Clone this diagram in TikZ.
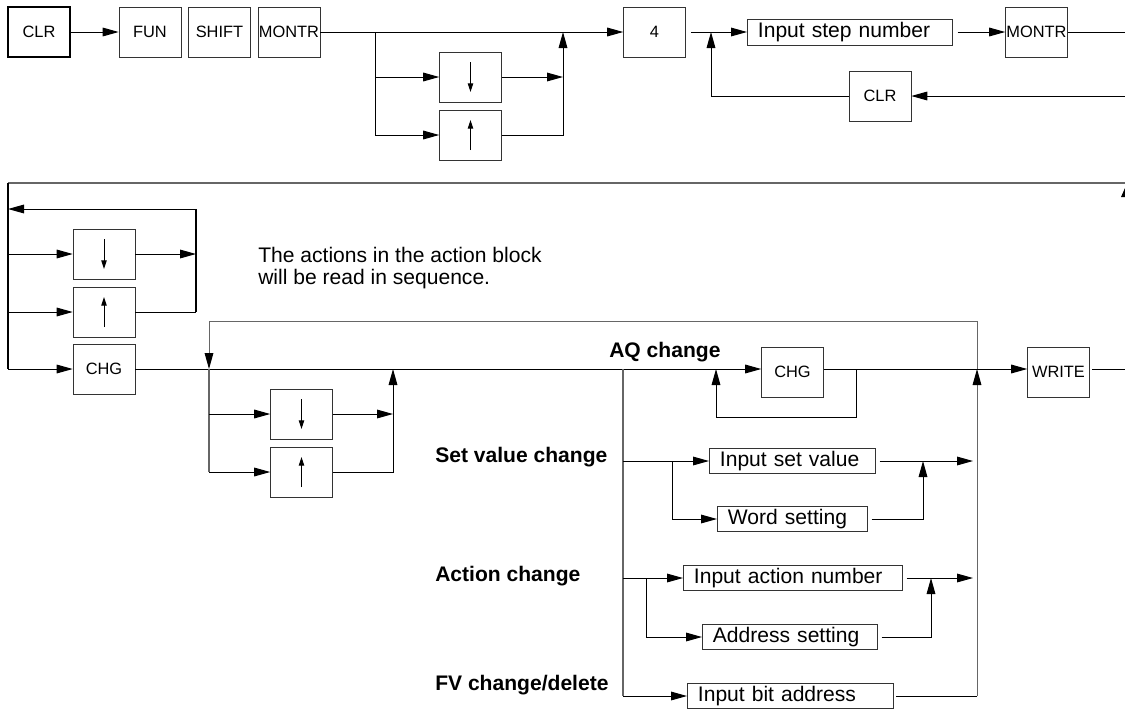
\documentclass[tikz,border=0pt]{standalone}
\usepackage{fontspec}
\setmainfont{Liberation Sans}
\usepackage{tikz}
\usetikzlibrary{arrows.meta, positioning, calc}

\begin{document}
\begin{tikzpicture}[
    x=0.75pt, y=-0.75pt,
    key/.style={rectangle, draw=black!80, minimum width=46.5pt, minimum height=37.5pt, inner sep=0pt, font=\fontsize{12.3}{14}\selectfont},
    entry/.style={rectangle, draw=black!80, anchor=west, text width=#1, align=left, inner xsep=8pt, inner ysep=0pt, minimum height=18.75pt, font=\fontsize{15.8}{18}\selectfont},
    modetext/.style={anchor=base west, inner sep=0pt, font=\fontsize{15.8}{18}\selectfont\bfseries},
    arrow/.style={-{Triangle[length=12pt, width=6.5pt, black]}, line width=0.75pt},
    wire/.style={line width=0.75pt},
    busline/.style={draw=black!60, line width=1.1pt},
    updown/.style={-{Triangle[length=6.5pt, width=4pt]}, line width=0.75pt},
]
    \useasboundingbox (0,0) rectangle (1125,708);

    % Top row: keys
    \node[key, draw=black, line width=1pt] (clr1) at (39,32) {CLR};
    \node[key, right=36pt of clr1] (fun) {FUN};
    \node[key, right=5.25pt of fun] (shift) {SHIFT};
    \node[key, right=5.25pt of shift] (montr1) {MONTR};
    \node[key] (dn1) at (470.5,77) {};
    \node[key] (up1) at (470.5,135) {};
    \node[key] (four) at (654.5,32) {4};
    \node[entry=137.75pt, minimum height=19.5pt] (isn) at (747,32) {Input step number};
    \node[key] (montr2) at (1036.5,32) {MONTR};
    \node[key] (clr2) at (880,96) {CLR};

    \coordinate (j1) at (375,32);
    \coordinate (m1) at (563,32);
    \coordinate (m2) at (711,32);
    \coordinate (e1) at (1125,96);
    \coordinate (e2) at (1125,32);

    % Top row: connectors
    \draw[arrow] (clr1) -- (fun);
    \draw[arrow] (montr1) -- (four);
    \draw[wire] (j1) -- (j1 |- up1);
    \draw[arrow] (j1 |- dn1) -- (dn1);
    \draw[arrow] (j1 |- up1) -- (up1);
    \draw[arrow] (dn1) -- (m1 |- dn1);
    \draw[arrow] (up1) -| (m1);
    \draw[arrow, shorten <=3.75pt] (four) -- (isn);
    \draw[arrow] (e1) -- (clr2);
    \draw[arrow] (clr2) -| (m2);
    \draw[arrow, shorten <=3.75pt] (isn) -- (montr2);
    \draw[wire] (montr2) -- (e2);

    % Second row: scroll loop
    \node[key] (dn2) at (104,254) {};
    \node[key] (up2) at (104,312) {};
    \node[key] (chg1) at (104,369) {CHG};

    \coordinate (l0) at (8,183);
    \coordinate (r0) at (1125,183);
    \coordinate (k1) at (196,209);

    \draw[busline] (r0) -- (l0);
    \draw[line width=1.4pt] (l0) -- (l0 |- chg1);
    \draw[arrow] (l0 |- chg1) -- (chg1);
    \draw[arrow] (l0 |- dn2) -- (dn2);
    \draw[arrow] (l0 |- up2) -- (up2);
    \draw[arrow] (dn2) -- (k1 |- dn2);
    \draw[wire] (up2) -- (k1 |- up2);
    \draw[line width=1.4pt] (k1 |- up2) -- (k1);
    \draw[arrow] (k1) -- (l0 |- k1);
    \fill (1121,197) -- (1125,188) -- (1125,197) -- cycle;

    \node[anchor=north west, align=left, inner sep=0pt, font=\fontsize{15.8}{16.5}\selectfont] (hint) at (258,247) {The actions in the action block\\will be read in sequence.};

    % Change block
    \node[key] (chg3) at (792.5,372) {CHG};
    \node[key] (write) at (1058.5,372) {WRITE};
    \node[key] (dn3) at (301.5,414) {};
    \node[key] (up3) at (301.5,472) {};

    \coordinate (t1) at (209,369);
    \coordinate (t2) at (977,369);
    \coordinate (t3) at (623,369);
    \coordinate (f1) at (209,321);
    \coordinate (f2) at (977,321);
    \coordinate (k2) at (393,369);
    \coordinate (q1) at (716,417);
    \coordinate (q2) at (856,417);
    \coordinate (e3) at (1125,369);

    \draw[arrow] (chg1) -- (chg1 -| chg3.west);
    \draw[arrow] (chg3.east |- chg1) -- (chg1 -| write.west);
    \draw[wire, shorten <=2pt] (e3 -| write.east) -- (e3);
    \draw[busline, arrow] (t2) -- (f2) -- (f1) -- (t1);
    \draw[busline] (t1) -- (t1 |- up3);
    \draw[arrow] (t1 |- dn3) -- (dn3);
    \draw[arrow] (t1 |- up3) -- (up3);
    \draw[arrow] (dn3) -- (k2 |- dn3);
    \draw[arrow] (up3) -| (k2);
    \draw[arrow] (q2 |- chg1) -- (q2) -- (q1) -- (q1 |- chg1);

    \node[modetext] (aq) at (609,357) {AQ change};
    \node[modetext] (sv) at (435,462) {Set value change};
    \node[modetext] (ac) at (435,581) {Action change};
    \node[modetext] (fv) at (435,690) {FV change/delete};

    % Change entries
    \node[entry=108.5pt] (isv) at (709,461) {Input set value};
    \node[entry=96.5pt] (ws) at (717,519) {Word setting};
    \node[entry=148.25pt] (ian) at (683,578) {Input action number};
    \node[entry=115.25pt] (as) at (702,637) {Address setting};
    \node[entry=138.5pt] (iba) at (687,696) {Input bit address};

    \coordinate (s1) at (672,461);
    \coordinate (s2) at (923,461);
    \coordinate (a1) at (646,578);
    \coordinate (a2) at (931,578);

    \draw[busline] (t3) -- (t3 |- iba);
    \draw[arrow] (t3 |- iba) -- (iba);
    \draw[arrow] (t3 |- isv) -- (isv);
    \draw[arrow] (t3 |- ian) -- (ian);
    \draw[arrow] (s1) |- (ws);
    \draw[arrow] (a1) |- (as);
    \draw[arrow, shorten <=3pt, shorten >=3pt] (isv) -- (t2 |- isv);
    \draw[arrow, shorten <=3pt, shorten >=3pt] (ian) -- (t2 |- ian);
    \draw[arrow, shorten <=3pt] (ws) -| (s2);
    \draw[arrow, shorten <=3pt] (as) -| (a2);
    \draw[wire, shorten <=2pt] (iba) -- (t2 |- iba);
    \draw[busline, arrow] (t2 |- iba) -- (t2);

    % Scroll arrows inside the keys
    \foreach \b in {dn1,dn2,dn3}
        \draw[updown] (\b.center) ++(0,-15) -- ++(0,30);
    \foreach \b in {up1,up2,up3}
        \draw[updown] (\b.center) ++(0,15) -- ++(0,-30);
\end{tikzpicture}
\end{document}
